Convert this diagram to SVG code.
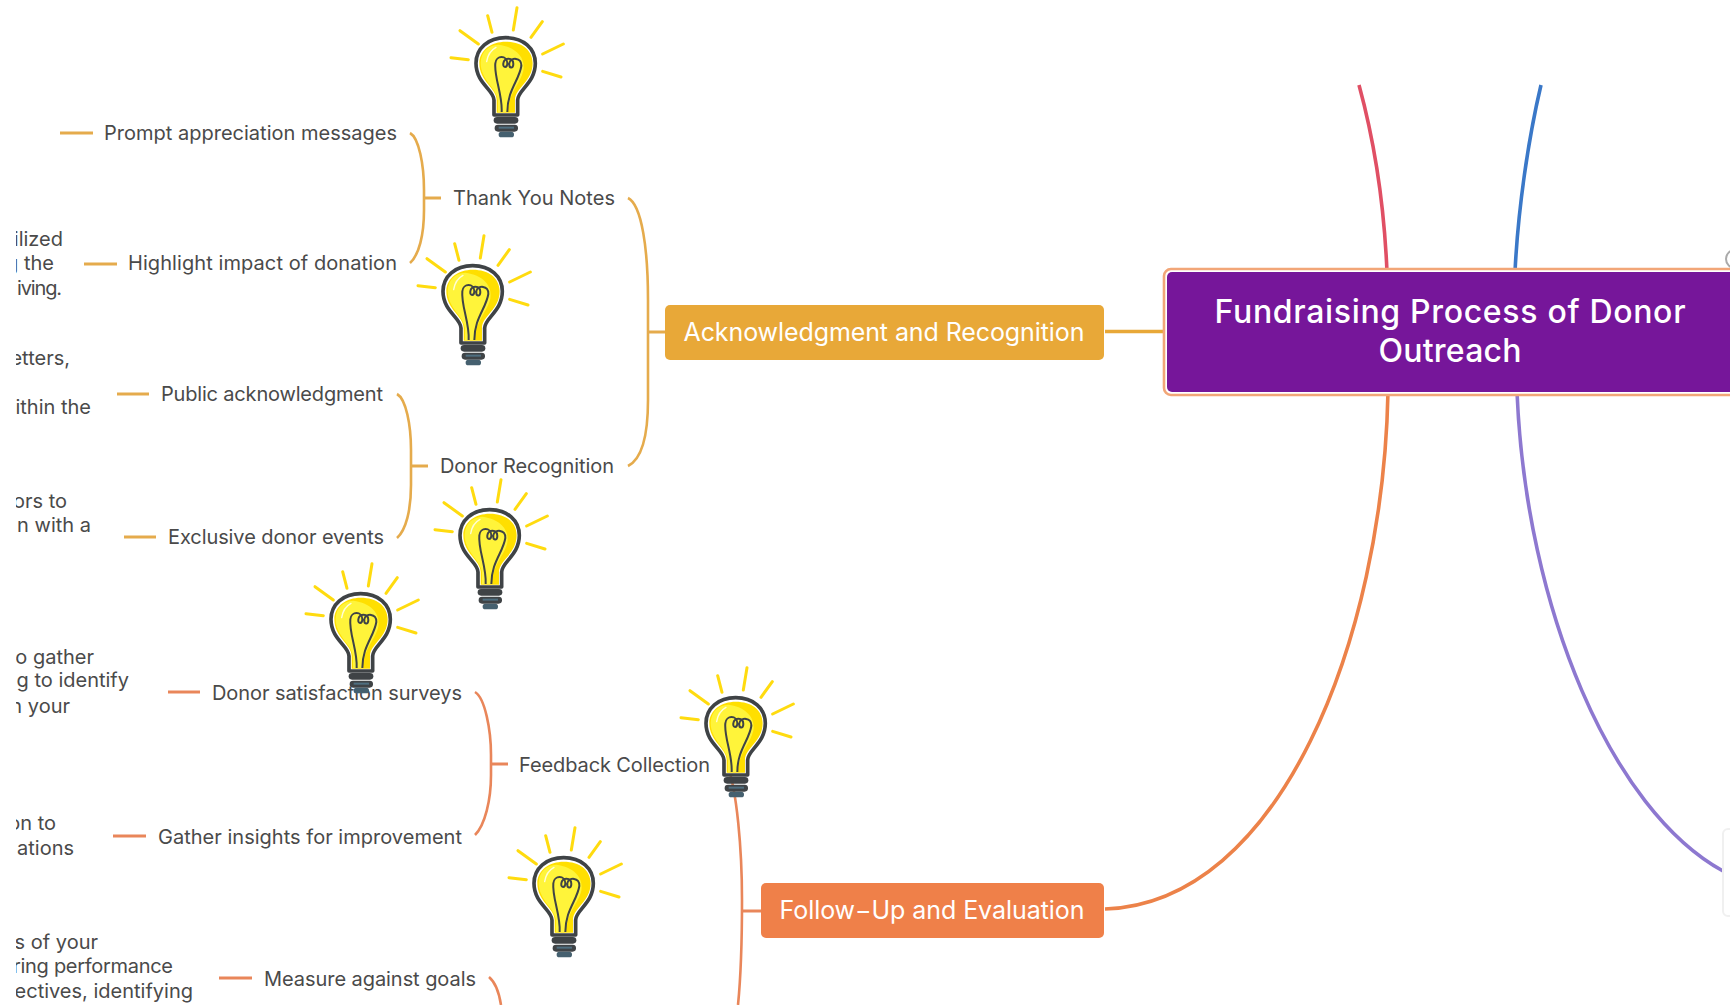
<svg xmlns="http://www.w3.org/2000/svg" width="1730" height="1005" viewBox="0 0 1730 1005">
<style>
text{font-family:"Inter","Liberation Sans",sans-serif}
.t{font-size:20px;fill:#4a4a4a}
.p{font-size:20px;fill:#4a4a4a;text-anchor:end}
.w{fill:#fff;text-anchor:middle;font-size:25px}
.m{font-size:32px;font-weight:500}
.c{fill:none;stroke-linecap:butt}
.a{stroke:#e5ab4c;stroke-width:2.6}
.o{stroke:#e9865a;stroke-width:2.6}
.d{stroke-width:3}
.main{stroke-width:3.6}
</style>
<defs>
<clipPath id="leftclip"><rect x="16" y="0" width="300" height="1005"/></clipPath>
<g id="bulb" transform="scale(0.3333)">
<g fill="none" stroke="#ffdb0f" stroke-width="9" stroke-linecap="round">
<path d="M93 173L145 179M120 92L175 132M203 47L216 97M291 23L280 90M367 65L333 112M430 132L368 162M368 214L423 231"/>
</g>
<path d="M222 345V300C222 270 168 250 168 190C168 145 205 113 257 113C310 113 346 145 346 190C346 250 293 270 293 300V345Z" fill="#fff" stroke="#3f4346" stroke-width="11" stroke-linejoin="round"/>
<path d="M230 338V300C230 265 178 245 178 190C178 150 215 125 257 125C305 125 338 150 338 190C338 245 285 265 285 300V338Z" fill="#ffdf00"/>
<path d="M234 336V300C228 262 182 240 182 188C184 155 205 135 235 134C285 140 318 172 310 212C300 252 270 272 262 336Z" fill="#fff43a"/>
<path d="M200 185C203 165 213 150 228 142" fill="none" stroke="#fff" stroke-width="4" stroke-linecap="round" opacity=".8"/>
<path d="M245 336C248 285 222 232 226 190C228 165 262 165 262 190C262 205 248 205 250 190C252 172 280 170 280 192C280 208 266 205 268 190C272 170 306 172 304 198C298 240 262 270 262 336" fill="none" stroke="#3f4346" stroke-width="6" stroke-linejoin="round"/>
<rect x="221" y="351" width="74" height="20" rx="10" fill="#3f4346"/>
<rect x="224" y="374" width="70" height="21" rx="10" fill="#3f4346"/>
<rect x="236" y="395" width="46" height="17" rx="8" fill="#45606f"/>
<rect x="236" y="380" width="46" height="6" fill="#4f6f80"/>
</g>
</defs>
<rect width="1730" height="1005" fill="#fff"/>

<g id="connectors">
<path class="c main" d="M1359 85C1374 140 1384 200 1387 272" stroke="#e04f64"/>
<path class="c main" d="M1541 85C1528 140 1518 210 1515 272" stroke="#3a78c8"/>
<path class="c main" d="M1517 392C1526 610 1612 810 1723 871" stroke="#8d78d0"/>
<path class="c main" d="M1388 392C1383 640 1280 903 1105 909" stroke="#ec8249"/>
<path class="main" d="M1105 331.5H1167" stroke="#e8a838"/>
<path class="c a" d="M628 198C642 205 648 250 648 300V400C648 440 640 460 628 466"/>
<path class="a d" d="M648 332H665"/>
<path class="c a" d="M410 133C419 138 424 165 424 190V210C424 235 419 255 410 263"/>
<path class="a d" d="M424 198H441"/>
<path class="c a" d="M397 394C406 399 411 425 411 450V485C411 510 406 530 397 538"/>
<path class="a d" d="M411 466H428"/>
<path class="a d" d="M60 133H93"/>
<path class="a d" d="M84 264H117"/>
<path class="a d" d="M117 394H149"/>
<path class="a d" d="M124 537H156"/>
<path class="c o" d="M727 764C737 790 742 850 742 900C742 940 741 975 738 1005"/>
<path class="o d" d="M742 911H761"/>
<path class="c o" d="M475 692C485 698 491 730 491 755V775C491 800 485 825 475 835"/>
<path class="o d" d="M491 764H508"/>
<path class="c o" d="M489 977C495 982 499 992 501 1005"/>
<path class="o d" d="M168 692H200"/>
<path class="o d" d="M113 836H146"/>
<path class="o d" d="M219 978H252"/>
</g>

<g id="partial-texts" clip-path="url(#leftclip)">
<text class="p" x="63" y="246">ilized</text>
<text class="p" x="54" y="270">g the</text>
<text class="p" x="62" y="295" textLength="45">iving.</text>
<text class="p" x="70" y="365">etters,</text>
<text class="p" x="91" y="414">ithin the</text>
<text class="p" x="67" y="508">ors to</text>
<text class="p" x="91" y="532">n with a</text>
<text class="p" x="94" y="664">o gather</text>
<text class="p" x="129" y="687">g to identify</text>
<text class="p" x="70" y="713">n your</text>
<text class="p" x="56" y="830">on to</text>
<text class="p" x="74" y="855">ations</text>
<text class="p" x="98" y="949">s of your</text>
<text class="p" x="173" y="973" textLength="160">ring performance</text>
<text class="p" x="193" y="998">ectives, identifying</text>
</g>

<g id="node-central">
<rect x="1164" y="269" width="600" height="126" rx="7" fill="#fff" stroke="#f2a678" stroke-width="2.6"/>
<rect x="1167" y="272" width="600" height="120" rx="5" fill="#76169a"/>
<text class="w m" x="1450" y="323" textLength="471">Fundraising Process of Donor</text>
<text class="w m" x="1450" y="362" textLength="143">Outreach</text>
</g>
<g id="node-ack"><rect x="665" y="305" width="439" height="55" rx="5" fill="#e8a838"/><text class="w" x="884" y="341" textLength="401">Acknowledgment and Recognition</text></g>
<g id="node-followup"><rect x="761" y="883" width="343" height="55" rx="5" fill="#ef8049"/><text class="w" x="932" y="919" textLength="305">Follow−Up and Evaluation</text></g>
<g id="node-thank"><text class="t" x="453" y="205" textLength="162">Thank You Notes</text></g>
<g id="node-donor"><text class="t" x="440" y="473" textLength="174">Donor Recognition</text></g>
<g id="node-prompt"><text class="t" x="104" y="140" textLength="293">Prompt appreciation messages</text></g>
<g id="node-highlight"><text class="t" x="128" y="270" textLength="269">Highlight impact of donation</text></g>
<g id="node-public"><text class="t" x="161" y="401" textLength="222">Public acknowledgment</text></g>
<g id="node-exclusive"><text class="t" x="168" y="544" textLength="216">Exclusive donor events</text></g>
<g id="node-feedback"><text class="t" x="519" y="772" textLength="191">Feedback Collection</text></g>
<g id="node-surveys"><text class="t" x="212" y="700" textLength="250">Donor satisfaction surveys</text></g>
<g id="node-insights"><text class="t" x="158" y="844" textLength="304">Gather insights for improvement</text></g>
<g id="node-measure"><text class="t" x="264" y="986" textLength="212">Measure against goals</text></g>

<g id="node-gray-mark"><circle cx="1735" cy="259" r="9" fill="none" stroke="#aaa" stroke-width="2"/></g>
<g id="node-side"><rect x="1723" y="829" width="40" height="87" rx="5" fill="#fff" stroke="#f0f0f0" stroke-width="2"/></g>

<g id="bulbs">
<use href="#bulb" transform="translate(420 0)"/>
<use href="#bulb" transform="translate(387 228)"/>
<use href="#bulb" transform="translate(404 472)"/>
<use href="#bulb" transform="translate(275 556)"/>
<use href="#bulb" transform="translate(650 660)"/>
<use href="#bulb" transform="translate(478 820)"/>
</g>
</svg>
